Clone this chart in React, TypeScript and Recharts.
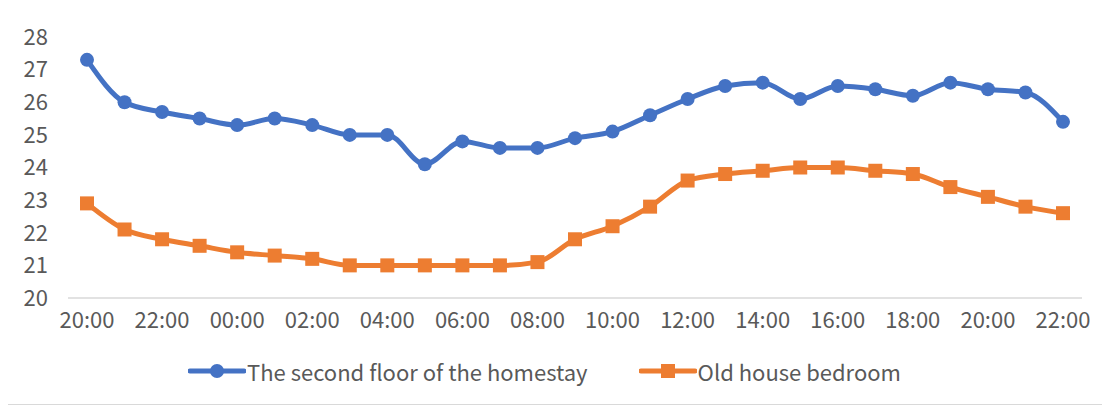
import { LineChart, Line, XAxis, YAxis, Legend } from 'recharts';

const hours = [
  '20:00', '21:00', '22:00', '23:00', '00:00', '01:00', '02:00', '03:00', '04:00',
  '05:00', '06:00', '07:00', '08:00', '09:00', '10:00', '11:00', '12:00', '13:00',
  '14:00', '15:00', '16:00', '17:00', '18:00', '19:00', '20:00', '21:00', '22:00',
];

const secondFloor = [
  27.3, 26.0, 25.7, 25.5, 25.3, 25.5, 25.3, 25.0, 25.0,
  24.1, 24.8, 24.6, 24.6, 24.9, 25.1, 25.6, 26.1, 26.5,
  26.6, 26.1, 26.5, 26.4, 26.2, 26.6, 26.4, 26.3, 25.4,
];

const oldHouse = [
  22.9, 22.1, 21.8, 21.6, 21.4, 21.3, 21.2, 21.0, 21.0,
  21.0, 21.0, 21.0, 21.1, 21.8, 22.2, 22.8, 23.6, 23.8,
  23.9, 24.0, 24.0, 23.9, 23.8, 23.4, 23.1, 22.8, 22.6,
];

const yTicks = [20, 21, 22, 23, 24, 25, 26, 27, 28];

const BLUE = '#4472C4';
const ORANGE = '#ED7D31';
const TEXT = '#595959';
const FONT = '"Noto Sans CJK SC", "Noto Sans", sans-serif';
const seriesOrder = ['floor', 'oldHouse'];

const data = hours.map((h, i) => ({
  hour: h,
  floor: secondFloor[i],
  oldHouse: oldHouse[i],
}));

const SquareDot = (props: any) => {
  const { cx, cy, index } = props;
  if (cx == null || cy == null) return null;
  return <rect key={`sq-${index}`} x={cx - 7} y={cy - 7} width={14} height={14} fill={ORANGE} />;
};

// legend drawn by hand so the markers sit on the line like in Excel
const LegendContent = (props: any) => {
  const items = [...(props.payload || [])].sort(
    (a: any, b: any) => seriesOrder.indexOf(a.dataKey) - seriesOrder.indexOf(b.dataKey)
  );
  return (
    <div style={{ display: 'flex', justifyContent: 'center', alignItems: 'center', fontFamily: FONT }}>
      {items.map((it: any, i: number) => (
        <div key={i} style={{ display: 'flex', alignItems: 'center', marginLeft: i > 0 ? 51 : 0 }}>
          <svg width={58} height={16}>
            <line x1={2} y1={8} x2={56} y2={8} stroke={it.color} strokeWidth={5} strokeLinecap="round" />
            {it.dataKey === 'floor' ? (
              <circle cx={29} cy={8} r={7} fill={it.color} />
            ) : (
              <rect x={22} y={1} width={14} height={14} fill={it.color} />
            )}
          </svg>
          <span style={{ color: TEXT, fontSize: 22, marginLeft: 1 }}>{it.value}</span>
        </div>
      ))}
    </div>
  );
};

export default function App() {
  return (
    <div
      style={{
        marginLeft: -2,
        marginTop: -1,
        width: 1104,
        height: 398,
        border: '1px solid #d9d9d9',
        boxSizing: 'border-box',
        background: '#fff',
      }}
    >
      <LineChart width={1102} height={396} data={data} margin={{ top: 29, right: 27, bottom: 66, left: 0 }}>
        <XAxis
          dataKey="hour"
          interval={1}
          padding={{ left: 19, right: 19 }}
          axisLine={{ stroke: '#d9d9d9', strokeWidth: 1.5 }}
          tickLine={false}
          tickSize={0}
          tickMargin={14}
          height={40}
          tick={{ fill: TEXT, fontSize: 22, fontFamily: FONT }}
        />
        <YAxis
          domain={[20, 28]}
          ticks={yTicks}
          axisLine={false}
          tickLine={false}
          tickSize={0}
          tickMargin={20}
          width={61}
          tick={{ fill: TEXT, fontSize: 22, fontFamily: FONT }}
        />
        <Line
          type="monotone"
          dataKey="floor"
          name="The second floor of the homestay"
          stroke={BLUE}
          strokeWidth={5}
          dot={{ r: 7, fill: BLUE, stroke: 'none' }}
          isAnimationActive={false}
        />
        <Line
          type="monotone"
          dataKey="oldHouse"
          name="Old house bedroom"
          stroke={ORANGE}
          strokeWidth={5}
          dot={<SquareDot />}
          isAnimationActive={false}
        />
        <Legend verticalAlign="middle" align="center" wrapperStyle={{ top: 347 }} content={<LegendContent />} />
      </LineChart>
    </div>
  );
}
